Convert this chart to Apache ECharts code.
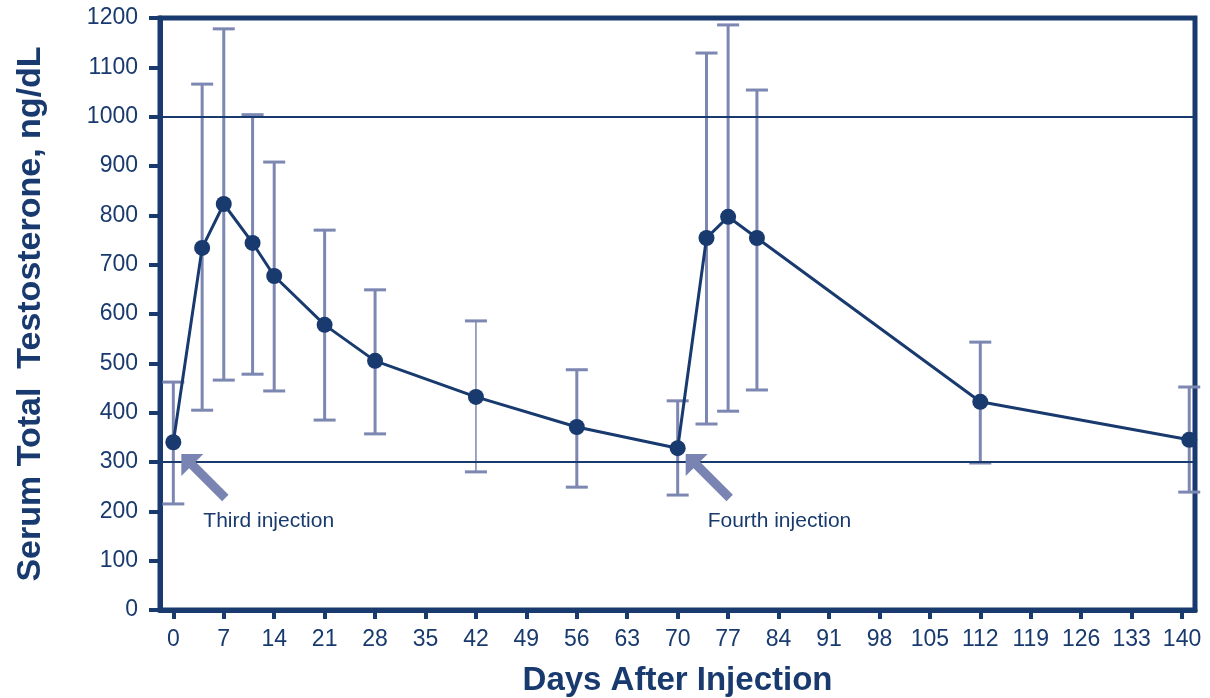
<!DOCTYPE html>
<html>
<head>
<meta charset="utf-8">
<script src="https://cdn.jsdelivr.net/npm/echarts@6/dist/echarts.min.js"></script>
<style>
  html, body { margin: 0; padding: 0; background: #fff; }
  #chart { width: 1210px; height: 698px; }
</style>
</head>
<body>
<div id="chart"></div>
<script>
// data
var days   = [0, 4, 7, 11, 14, 21, 28, 42, 56, 70, 74, 77, 81, 112, 141];
var means  = [340, 734, 823, 744, 677, 578, 505, 432, 371, 328, 754, 797, 754, 422, 345];
var lows   = [215, 405, 466, 478, 444, 385, 357, 280, 249, 233, 377, 403, 446, 298, 239];
var highs  = [462, 1066, 1178, 1004, 908, 770, 649, 586, 487, 424, 1129, 1186, 1054, 543, 452];
var xTicks = [0, 7, 14, 21, 28, 35, 42, 49, 56, 63, 70, 77, 84, 91, 98, 105, 112, 119, 126, 133, 140];
var refLines = [1000, 300];
var injDays = [0, 70];
var injLabels = ['Third injection', 'Fourth injection'];

var navy = '#183a6e';
var barColor = '#7c87b2';
var arrowColor = '#7a84b2';
var font = '"Liberation Sans", Arial, Helvetica, sans-serif';

var lineData = [], errData = [], injData = [];
for (var i = 0; i < days.length; i++) {
    lineData.push([days[i], means[i]]);
    errData.push([days[i], lows[i], highs[i]]);
}
for (var j = 0; j < injDays.length; j++) {
    injData.push([injDays[j], 300, injLabels[j]]);
}

var chart = echarts.init(document.getElementById('chart'));

var option = {
    backgroundColor: '#fff',
    animation: false,
    grid: {
        left: 160, right: 15, top: 18, bottom: 88,
        outerBoundsMode: 'none',
        containLabel: false,
        show: true, borderColor: navy, borderWidth: 5
    },
    xAxis: {
        type: 'value',
        min: -1.85,
        max: 141.8,
        name: 'Days After Injection',
        nameLocation: 'middle',
        nameGap: 54,
        nameTextStyle: { color: navy, fontSize: 33, fontWeight: 'bold', fontFamily: font },
        axisLine: { onZero: false, lineStyle: { color: navy, width: 5 } },
        axisTick: { customValues: xTicks, length: 9, lineStyle: { color: navy, width: 4 } },
        axisLabel: { customValues: xTicks, color: navy, fontSize: 23, fontFamily: font, margin: 18 },
        splitLine: { show: false }
    },
    yAxis: {
        type: 'value',
        min: 0,
        max: 1200,
        interval: 100,
        name: 'Serum Total  Testosterone, ng/dL',
        nameLocation: 'middle',
        nameGap: 112,
        nameTextStyle: { color: navy, fontSize: 34, fontWeight: 'bold', fontFamily: font },
        axisLine: { onZero: false, lineStyle: { color: navy, width: 5 } },
        axisTick: { length: 11, lineStyle: { color: navy, width: 4 } },
        axisLabel: {
            color: navy, fontSize: 23, fontFamily: font, margin: 22,
            formatter: function (v) { return String(v); }
        },
        splitLine: { show: false }
    },
    series: [
        {
            // error bars (the day-42 bar is drawn thin in the original)
            type: 'custom',
            data: errData,
            z: 2,
            silent: true,
            renderItem: function (params, api) {
                var lo = api.coord([api.value(0), api.value(1)]);
                var hi = api.coord([api.value(0), api.value(2)]);
                var hw = 11;
                var w = api.value(0) === 42 ? 1.5 : 3;
                var st = { stroke: barColor, lineWidth: w };
                var cap = { stroke: barColor, lineWidth: 3 };
                return {
                    type: 'group',
                    children: [
                        { type: 'line', shape: { x1: lo[0], y1: lo[1], x2: hi[0], y2: hi[1] }, style: st },
                        { type: 'line', shape: { x1: lo[0] - hw, y1: lo[1], x2: lo[0] + hw, y2: lo[1] }, style: cap },
                        { type: 'line', shape: { x1: hi[0] - hw, y1: hi[1], x2: hi[0] + hw, y2: hi[1] }, style: cap }
                    ]
                };
            }
        },
        {
            type: 'line',
            data: lineData,
            z: 5,
            symbol: 'circle',
            symbolSize: 16,
            itemStyle: { color: navy },
            lineStyle: { color: navy, width: 3 },
            markLine: {
                silent: true,
                symbol: ['none', 'none'],
                label: { show: false },
                lineStyle: { color: navy, width: 2, type: 'solid' },
                data: refLines.map(function (v) { return { yAxis: v }; })
            }
        },
        {
            // injection arrows and labels
            type: 'custom',
            data: injData,
            z: 6,
            silent: true,
            renderItem: function (params, api) {
                var p = api.coord([api.value(0), api.value(1)]);
                var tx = p[0] + 8, ty = p[1] - 8;
                var pts = [[0, 0], [22, 0], [14.2, 7.8], [47.2, 40.8], [40.8, 47.2], [7.8, 14.2], [0, 22]];
                var poly = pts.map(function (q) { return [tx + q[0], ty + q[1]]; });
                return {
                    type: 'group',
                    children: [
                        { type: 'polygon', shape: { points: poly }, style: { fill: arrowColor } },
                        {
                            type: 'text',
                            x: p[0] + 30,
                            y: p[1] + 59,
                            style: {
                                text: injData[params.dataIndex][2],
                                fill: navy,
                                font: '21px ' + font,
                                textAlign: 'left',
                                textVerticalAlign: 'middle'
                            }
                        }
                    ]
                };
            }
        }
    ]
};

chart.setOption(option);
</script>
</body>
</html>
